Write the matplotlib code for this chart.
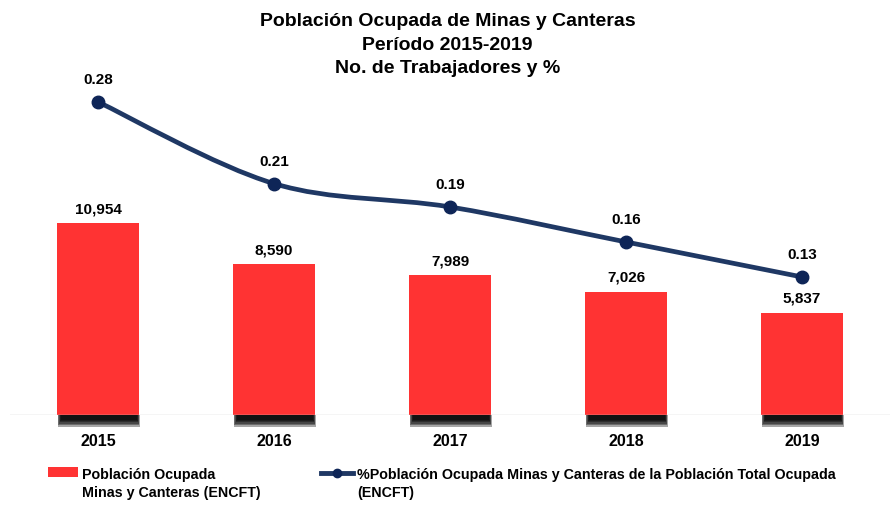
import matplotlib
matplotlib.use("Agg")
import matplotlib.pyplot as plt
from matplotlib.path import Path
from matplotlib.patches import PathPatch, Rectangle
from matplotlib.lines import Line2D
import numpy as np

years = ["2015", "2016", "2017", "2018", "2019"]
trabajadores = [10954, 8590, 7989, 7026, 5837]
porcentaje = [0.28, 0.21, 0.19, 0.16, 0.13]

rojo = "#FF3333"
azul = "#1F3864"
azul_marca = "#0E2557"

plt.rcParams["font.family"] = ["Liberation Sans", "DejaVu Sans"]
plt.rcParams["font.weight"] = "bold"

fig = plt.figure(figsize=(8.95, 5.06), dpi=100)
W, H = 895, 506
ax = fig.add_axes([10 / W, 1 - 416 / H, 880 / W, 356 / H])
ax2 = ax.twinx()

x = np.arange(len(years))
ax.set_xlim(-0.5, 4.5)
ax.set_ylim(0, 20310)
ax2.set_ylim(0.0117, 0.3168)

# sombra bajo las barras (difusa)
for k in range(6):
    h = 660 - k * 80
    ax.bar(x + 0.005, h, width=0.465 - k * 0.006, bottom=-h,
           color="black", alpha=0.35, clip_on=False, zorder=1, linewidth=0)
ax.bar(x, trabajadores, width=0.47, color=rojo, zorder=2, linewidth=0)
for xi, v in zip(x, trabajadores):
    ax.text(xi, v + 450, f"{v:,}", ha="center", va="bottom", fontsize=11, fontweight="bold")

ax.axhline(0, color="#D0D0D0", linewidth=1, zorder=3)

# linea suavizada (Catmull-Rom a Bezier)
pts = np.column_stack([x, porcentaje])
verts = [pts[0]]
codes = [Path.MOVETO]
for i in range(len(pts) - 1):
    p0 = pts[i - 1] if i > 0 else pts[i]
    p1, p2 = pts[i], pts[i + 1]
    p3 = pts[i + 2] if i + 2 < len(pts) else pts[i + 1]
    c1 = p1 + (p2 - p0) / 6
    c2 = p2 - (p3 - p1) / 6
    verts += [c1, c2, p2]
    codes += [Path.CURVE4] * 3
ax2.add_patch(PathPatch(Path(verts, codes), facecolor="none", edgecolor=azul, linewidth=3.4, zorder=4))
ax2.plot(x, porcentaje, linestyle="none", marker="o", markersize=9, color=azul_marca, zorder=5)
for xi, v in zip(x, porcentaje):
    ax2.text(xi, v + 0.0135, f"{v:.2f}", ha="center", va="bottom", fontsize=11, fontweight="bold")

for a in (ax, ax2):
    for s in a.spines.values():
        s.set_visible(False)
    a.set_yticks([])
    a.patch.set_visible(False)
ax.set_xticks(x)
ax.set_xticklabels(years, fontsize=11.5, fontweight="bold")
ax.tick_params(axis="x", length=0, pad=13)

fig.text(0.5, 1 - 45 / H, "Población Ocupada de Minas y Canteras\nPeríodo 2015-2019\nNo. de Trabajadores y %",
         ha="center", va="center", fontsize=14, fontweight="bold", linespacing=1.5)

# leyenda
fig.patches.append(Rectangle((48 / W, 1 - 478 / H), 30 / W, 10 / H, transform=fig.transFigure,
                             facecolor=rojo, edgecolor="none"))
fig.text(82 / W, 1 - 484 / H, "Población Ocupada\nMinas y Canteras (ENCFT)", ha="left", va="center",
         fontsize=10.3, fontweight="bold", linespacing=1.3)
fig.lines.append(Line2D([321 / W, 353 / W], [1 - 474 / H, 1 - 474 / H], transform=fig.transFigure,
                        color=azul, linewidth=3.5))
fig.lines.append(Line2D([337 / W], [1 - 474 / H], transform=fig.transFigure, marker="o",
                        markersize=6, color=azul_marca))
fig.text(357 / W, 1 - 484 / H, "%Población Ocupada Minas y Canteras de la Población Total Ocupada\n(ENCFT)",
         ha="left", va="center", fontsize=10.3, fontweight="bold", linespacing=1.3)

fig.savefig("out.png", dpi=100)
